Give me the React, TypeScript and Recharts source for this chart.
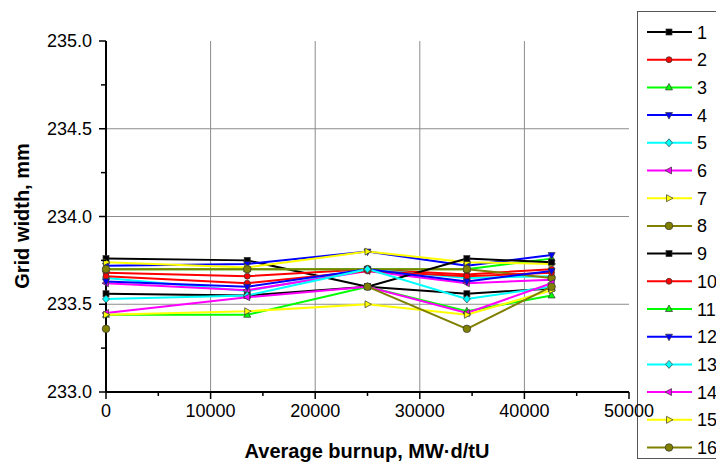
import React from 'react';
import { LineChart, Line, XAxis, YAxis, CartesianGrid, Label } from 'recharts';

// burnup points (MW·d/tU) and grid width per series (mm)
const burnup = [0, 13500, 25000, 34500, 42600];

const s1 = [233.76, 233.75, 233.6, 233.56, 233.59];
const s2 = [233.68, 233.66, 233.7, 233.67, 233.7];
const s3 = [233.7, 233.7, 233.7, 233.7, 233.76];
const s4 = [233.72, 233.73, 233.8, 233.72, 233.78];
const s5 = [233.65, 233.575, 233.7, 233.65, 233.66];
const s6 = [233.62, 233.58, 233.69, 233.62, 233.64];
const s7 = [233.74, 233.71, 233.8, 233.74, 233.73];
const s8 = [233.7, 233.7, 233.7, 233.7, 233.65];
const s9 = [233.56, 233.55, 233.6, 233.76, 233.74];
const s10 = [233.66, 233.62, 233.69, 233.66, 233.68];
const s11 = [233.44, 233.44, 233.6, 233.46, 233.55];
const s12 = [233.63, 233.6, 233.7, 233.63, 233.69];
const s13 = [233.53, 233.55, 233.7, 233.53, 233.6];
const s14 = [233.45, 233.54, 233.6, 233.45, 233.62];
const s15 = [233.44, 233.46, 233.5, 233.44, 233.58];
const s16 = [233.36, null, 233.6, 233.36, 233.6];

const seriesValues = [s1, s2, s3, s4, s5, s6, s7, s8, s9, s10, s11, s12, s13, s14, s15, s16];
const seriesNames = ['1', '2', '3', '4', '5', '6', '7', '8', '9', '10', '11', '12', '13', '14', '15', '16'];
const colors = ['#000000', '#ff0000', '#00ff00', '#0000ff', '#00ffff', '#ff00ff', '#ffff00', '#808000'];
const shapes = ['square', 'circle', 'up', 'down', 'diamond', 'left', 'right', 'bigcircle'];

const xTicks = [0, 5000, 10000, 15000, 20000, 25000, 30000, 35000, 40000, 45000, 50000];
const yTicks = [233.0, 233.25, 233.5, 233.75, 234.0, 234.25, 234.5, 234.75, 235.0];

const data = burnup.map((b, i) => {
  const row: any = { burnup: b };
  seriesValues.forEach((vals, k) => {
    row['s' + (k + 1)] = vals[i];
  });
  return row;
});

function Marker({ shape, color, cx, cy }: { shape: string; color: string; cx: number; cy: number }) {
  const stroke = '#333';
  const sw = 0.7;
  switch (shape) {
    case 'square':
      return <rect x={cx - 3} y={cy - 3} width={6} height={6} fill={color} stroke={stroke} strokeWidth={sw} />;
    case 'circle':
      return <circle cx={cx} cy={cy} r={3} fill={color} stroke={stroke} strokeWidth={sw} />;
    case 'bigcircle':
      return <circle cx={cx} cy={cy} r={3.8} fill={color} stroke={stroke} strokeWidth={sw} />;
    case 'up':
      return <polygon points={`${cx},${cy - 4} ${cx + 3.5},${cy + 2.5} ${cx - 3.5},${cy + 2.5}`} fill={color} stroke={stroke} strokeWidth={sw} />;
    case 'down':
      return <polygon points={`${cx},${cy + 4} ${cx + 3.5},${cy - 2.5} ${cx - 3.5},${cy - 2.5}`} fill={color} stroke={stroke} strokeWidth={sw} />;
    case 'diamond':
      return <polygon points={`${cx},${cy - 4} ${cx + 3.5},${cy} ${cx},${cy + 4} ${cx - 3.5},${cy}`} fill={color} stroke={stroke} strokeWidth={sw} />;
    case 'left':
      return <polygon points={`${cx - 4},${cy} ${cx + 2.5},${cy - 3.5} ${cx + 2.5},${cy + 3.5}`} fill={color} stroke={stroke} strokeWidth={sw} />;
    default:
      return <polygon points={`${cx + 4},${cy} ${cx - 2.5},${cy - 3.5} ${cx - 2.5},${cy + 3.5}`} fill={color} stroke={stroke} strokeWidth={sw} />;
  }
}

const XTickBottom = ({ x, y, payload }: any) => {
  const major = payload.value % 10000 === 0;
  return (
    <g>
      <line x1={x} y1={y} x2={x} y2={y + (major ? 7 : 4)} stroke="#000" strokeWidth={1.5} />
      {major && (
        <text x={x} y={y + 25} textAnchor="middle" fontSize={18} fill="#000">
          {payload.value}
        </text>
      )}
    </g>
  );
};

const XTickTop = ({ x, y, payload }: any) => {
  const major = payload.value % 10000 === 0;
  return <line x1={x} y1={y} x2={x} y2={y + (major ? 7 : 4)} stroke="#000" strokeWidth={1.5} />;
};

const YTickLeft = ({ x, y, payload }: any) => {
  const major = Math.abs(payload.value * 2 - Math.round(payload.value * 2)) < 1e-6;
  return (
    <g>
      <line x1={x} y1={y} x2={x - (major ? 7 : 5)} y2={y} stroke="#000" strokeWidth={1.5} />
      {major && (
        <text x={x - 14} y={y + 6} textAnchor="end" fontSize={18} fill="#000">
          {Number(payload.value).toFixed(1)}
        </text>
      )}
    </g>
  );
};

const YTickRight = ({ x, y, payload }: any) => {
  const major = Math.abs(payload.value * 2 - Math.round(payload.value * 2)) < 1e-6;
  return <line x1={x} y1={y} x2={x - (major ? 7 : 4)} y2={y} stroke="#000" strokeWidth={1.5} />;
};

function ChartLegend() {
  return (
    <svg width={80} height={450} style={{ position: 'absolute', left: 637, top: 11 }}>
      <rect x={0.5} y={0.5} width={90} height={447} fill="#fff" stroke="#555" strokeWidth={1} />
      {seriesNames.map((name, i) => {
        const cy = 21 + i * 27.7;
        const color = colors[i % 8];
        return (
          <g key={name}>
            <line x1={10} y1={cy} x2={55} y2={cy} stroke={color} strokeWidth={2} />
            <Marker shape={shapes[i % 8]} color={color} cx={32} cy={cy} />
            <text x={60} y={cy + 6.5} fontSize={18} fill="#000">
              {name}
            </text>
          </g>
        );
      })}
    </svg>
  );
}

export default function App() {
  return (
    <div style={{ position: 'absolute', left: 0, top: 0, width: 716, height: 464, background: '#fff', fontFamily: '"Liberation Sans", Arial, sans-serif' }}>
      <ChartLegend />
      <div style={{ position: 'absolute', left: 0, top: 0 }}>
        <LineChart width={716} height={464} data={data} margin={{ top: 41, right: 87, left: 6, bottom: 0 }}>
          <CartesianGrid
            stroke="#8c8c8c"
            strokeWidth={1}
            horizontalValues={[233.5, 234.0, 234.5]}
            verticalValues={[10000, 20000, 30000, 40000]}
          />
          <XAxis
            dataKey="burnup"
            type="number"
            domain={[0, 50000]}
            ticks={xTicks}
            interval={0}
            tick={<XTickBottom />}
            tickLine={false}
            tickSize={0}
            tickMargin={0}
            height={72}
            axisLine={{ stroke: '#000', strokeWidth: 2 }}
          >
            <Label
              content={() => (
                <text x={367} y={458} textAnchor="middle" fontSize={20} fontWeight="bold" fill="#000">
                  Average burnup, MW·d/tU
                </text>
              )}
            />
          </XAxis>
          <XAxis
            xAxisId="top"
            orientation="top"
            dataKey="burnup"
            type="number"
            domain={[0, 50000]}
            ticks={xTicks}
            interval={0}
            tick={<XTickTop />}
            tickLine={false}
            tickSize={0}
            tickMargin={0}
            height={0}
            axisLine={{ stroke: '#000', strokeWidth: 2 }}
          />
          <YAxis
            type="number"
            domain={[233, 235]}
            ticks={yTicks}
            interval={0}
            tick={<YTickLeft />}
            tickLine={false}
            tickSize={0}
            tickMargin={0}
            width={100}
            axisLine={{ stroke: '#000', strokeWidth: 2 }}
          >
            <Label
              content={() => (
                <text x={29} y={216} transform="rotate(-90 29 216)" textAnchor="middle" fontSize={20} fontWeight="bold" fill="#000">
                  Grid width, mm
                </text>
              )}
            />
          </YAxis>
          <YAxis
            yAxisId="right"
            orientation="right"
            type="number"
            domain={[233, 235]}
            ticks={yTicks}
            interval={0}
            tick={<YTickRight />}
            tickLine={false}
            tickSize={0}
            tickMargin={0}
            width={0}
            axisLine={{ stroke: '#000', strokeWidth: 2 }}
          />
          {seriesNames.map((name, k) => {
            const color = colors[k % 8];
            const shape = shapes[k % 8];
            return (
              <Line
                key={name}
                dataKey={'s' + (k + 1)}
                name={name}
                stroke={color}
                strokeWidth={2}
                isAnimationActive={false}
                connectNulls={false}
                dot={(p: any) =>
                  p.value == null || p.cy == null ? (
                    <g key={`${name}-${p.index}`} />
                  ) : (
                    <Marker key={`${name}-${p.index}`} shape={shape} color={color} cx={p.cx} cy={p.cy} />
                  )
                }
              />
            );
          })}
        </LineChart>
      </div>
    </div>
  );
}
